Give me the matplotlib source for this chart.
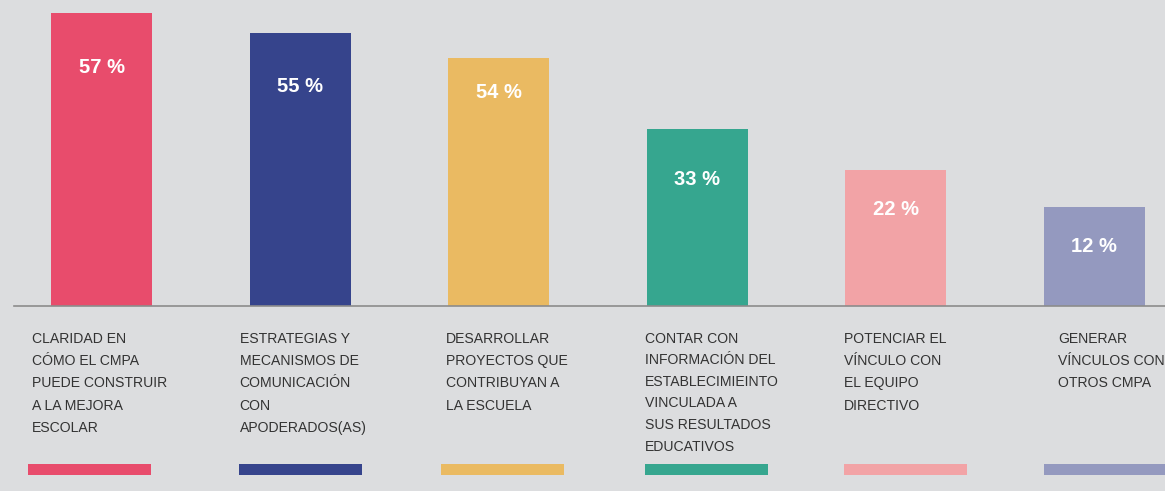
import matplotlib.pyplot as plt

# values shown on the bars
labels_pct = [57, 55, 54, 33, 22, 12]
# bar heights as drawn in the picture (not exactly proportional to the labels)
bar_heights = [57, 53.1, 48.2, 34.4, 26.5, 19.3]
categories = [
    "CLARIDAD EN\nCÓMO EL CMPA\nPUEDE CONSTRUIR\nA LA MEJORA\nESCOLAR",
    "ESTRATEGIAS Y\nMECANISMOS DE\nCOMUNICACIÓN\nCON\nAPODERADOS(AS)",
    "DESARROLLAR\nPROYECTOS QUE\nCONTRIBUYAN A\nLA ESCUELA",
    "CONTAR CON\nINFORMACIÓN DEL\nESTABLECIMIEINTO\nVINCULADA A\nSUS RESULTADOS\nEDUCATIVOS",
    "POTENCIAR EL\nVÍNCULO CON\nEL EQUIPO\nDIRECTIVO",
    "GENERAR\nVÍNCULOS CON\nOTROS CMPA",
]
colors = ["#e84c6c", "#36448c", "#eaba62", "#36a68f", "#f2a3a6", "#9499bf"]

# layout tweaks (x / y data units) for labels and colour strips
pct_drop = [10.7, 10.5, 6.6, 9.9, 7.8, 7.8]
text_shift = [-0.095, -0.05, -0.01, -0.01, -0.005, 0.075]
strip_shift = [-0.115, -0.055, -0.035, -0.01, -0.005, 0.0]
line_sp = [1.76, 1.76, 1.76, 1.69, 1.76, 1.76]

bg = "#dcdddf"
fig = plt.figure(figsize=(11.65, 4.91), dpi=100, facecolor=bg)
ax = fig.add_axes([0, 0, 1, 1])
ax.set_facecolor(bg)

x = list(range(len(categories)))
bw = 0.51
ax.bar(x, bar_heights, width=bw, color=colors, align="center")

for i in x:
    ax.text(i, bar_heights[i] - pct_drop[i], f"{labels_pct[i]} %", ha="center", va="center",
            color="white", fontsize=14.5, fontweight="bold", family="Liberation Sans")
    left = i - bw / 2
    ax.text(left + text_shift[i], -5.0, categories[i], ha="left", va="top",
            color="#333333", fontsize=10.1, family="Liberation Sans", linespacing=line_sp[i])
    ax.bar(left + strip_shift[i], 2.1, width=0.62, bottom=-32.9, color=colors[i], align="edge")

ax.plot([-0.44, 5.5], [0, 0], color="#8c8c8c", lw=1.2)

ax.set_xlim(-0.512, 5.357)
ax.set_ylim(-36.0, 59.5)
ax.axis("off")

plt.savefig("out.png", dpi=100, facecolor=bg)
